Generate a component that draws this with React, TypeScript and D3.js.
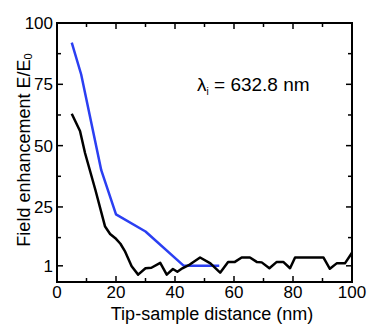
import React, { useRef, useEffect } from 'react'
import * as d3 from 'd3'

// tip-sample distance (nm) and field enhancement
const blackX = [5, 7.8, 9.5, 13, 16.3, 18, 20, 21.5, 23, 25.3, 27.5, 30, 32, 35, 37.2, 39.3, 40.8, 42.5, 45, 48.5, 52, 55.3, 58, 60.3, 62.6, 65.4, 67.7, 69.4, 72, 74.5, 76.7, 79, 80.7, 83.5, 90.3, 92.5, 94.8, 97.6, 100]
const blackY = [63, 56, 47, 32, 17, 14, 12, 10, 7, 0.8, -2.6, 0, 0.2, 2.2, -2.6, -0.3, -1.4, 0, 1.5, 4.4, 2, -1.8, 2.6, 2.6, 4.4, 4.4, 2.6, 2.4, 0, 2.6, 2.6, 0, 4.4, 4.4, 4.4, -0.2, 2, 2, 6.3]

const blueX = [5, 8.2, 15, 20, 30, 43, 55]
const blueY = [92, 79, 40, 22, 15, 1, 1]

const xTicks = [0, 20, 40, 60, 80, 100]
const xMinor = [10, 30, 50, 70, 90]
const yTicks = [1, 25, 50, 75, 100]
const yTickLabels = ['1', '25', '50', '75', '100']
const yMinor = [12.5, 37.5, 62.5, 87.5]

const W = 382, H = 326
const margin = { left: 57, right: 30, top: 23, bottom: 44 }
const FONT = 'Liberation Sans, Arial, sans-serif'

export default function App() {
	const ref = useRef<SVGSVGElement>(null)

	useEffect(() => {
		const svg = d3.select(ref.current)
		svg.selectAll('*').remove()

		const x = d3.scaleLinear().domain([0, 100]).range([margin.left, W - margin.right])
		const y = d3.scaleLinear().domain([-5.6, 100]).range([H - margin.bottom, margin.top])
		const x0 = margin.left, x1 = W - margin.right
		const y0 = H - margin.bottom, y1 = margin.top

		const line = d3.line<[number, number]>()
			.x(d => x(d[0]))
			.y(d => y(d[1]))

		const black = blackX.map((v, i) => [v, blackY[i]] as [number, number])
		const blue = blueX.map((v, i) => [v, blueY[i]] as [number, number])

		svg.append('path')
			.attr('d', line(blue))
			.attr('fill', 'none')
			.attr('stroke', '#2b3ff2')
			.attr('stroke-width', 2.5)
			.attr('stroke-linejoin', 'round')

		svg.append('path')
			.attr('d', line(black))
			.attr('fill', 'none')
			.attr('stroke', '#000')
			.attr('stroke-width', 2.5)
			.attr('stroke-linejoin', 'round')

		// ticks, inward on all four sides
		const g = svg.append('g').attr('stroke', '#000').attr('stroke-width', 1.5)
		const tick = (xa: number, ya: number, xb: number, yb: number) =>
			g.append('line').attr('x1', xa).attr('y1', ya).attr('x2', xb).attr('y2', yb)

		xTicks.forEach(t => { tick(x(t), y0, x(t), y0 - 6); tick(x(t), y1, x(t), y1 + 6) })
		xMinor.forEach(t => { tick(x(t), y0, x(t), y0 - 4); tick(x(t), y1, x(t), y1 + 4) })
		yTicks.forEach(t => { tick(x0, y(t), x0 + 6, y(t)); tick(x1, y(t), x1 - 6, y(t)) })
		yMinor.forEach(t => { tick(x0, y(t), x0 + 4, y(t)); tick(x1, y(t), x1 - 4, y(t)) })

		svg.append('rect')
			.attr('x', x0).attr('y', y1)
			.attr('width', x1 - x0).attr('height', y0 - y1)
			.attr('fill', 'none')
			.attr('stroke', '#000')
			.attr('stroke-width', 2)

		svg.selectAll('.xl')
			.data(xTicks)
			.enter()
			.append('text')
			.attr('x', d => x(d))
			.attr('y', y0 + 16)
			.attr('text-anchor', 'middle')
			.attr('font-family', FONT)
			.attr('font-size', 17)
			.text(d => String(d))

		svg.selectAll('.yl')
			.data(yTicks)
			.enter()
			.append('text')
			.attr('x', x0 - 4)
			.attr('y', d => y(d) + 6)
			.attr('text-anchor', 'end')
			.attr('font-family', FONT)
			.attr('font-size', 17)
			.text((d, i) => yTickLabels[i])

		svg.append('text')
			.attr('x', 212)
			.attr('y', 320)
			.attr('text-anchor', 'middle')
			.attr('font-family', FONT)
			.attr('font-size', 18)
			.text('Tip-sample distance (nm)')

		const yl = svg.append('text')
			.attr('transform', 'translate(30,' + 150 + ') rotate(-90)')
			.attr('text-anchor', 'middle')
			.attr('font-family', FONT)
			.attr('font-size', 18)
		yl.append('tspan').text('Field enhancement E/E')
		yl.append('tspan').attr('font-size', 11).attr('dy', 2).text('0')

		const ann = svg.append('text')
			.attr('x', 197)
			.attr('y', 91)
			.attr('font-family', FONT)
			.attr('font-size', 19)
		ann.append('tspan').text('λ')
		ann.append('tspan').attr('font-size', 10).attr('dy', 4).text('i')
		ann.append('tspan').attr('dy', -4).text(' = 632.8 nm')
	}, [])

	return (
		<svg ref={ref} width={W} height={H}
			style={{ position: 'absolute', left: 0, top: 0, background: '#fff' }} />
	)
}
